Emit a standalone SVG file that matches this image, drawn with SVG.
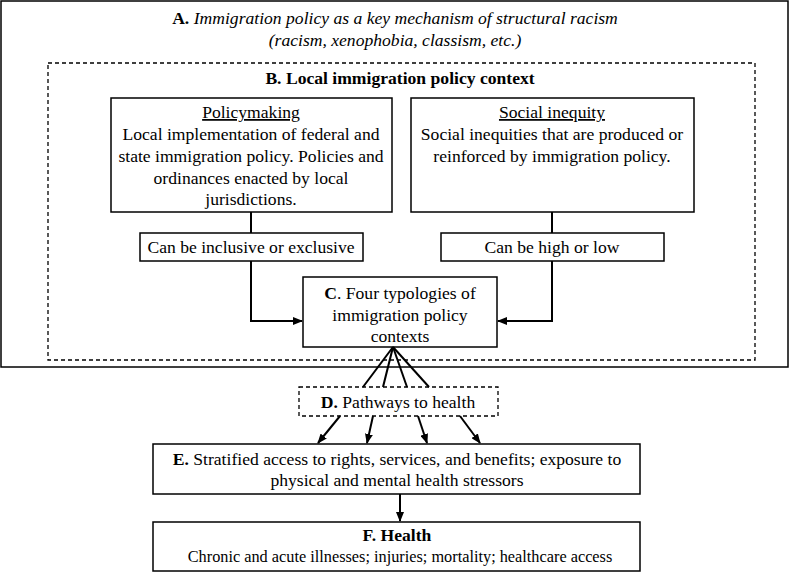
<svg xmlns="http://www.w3.org/2000/svg" width="790" height="573" viewBox="0 0 790 573">
<defs>
<marker id="ah" markerWidth="10" markerHeight="8" refX="9" refY="4" orient="auto" markerUnits="userSpaceOnUse">
<path d="M0,0 L10,4 L0,8 Z" fill="#000"/>
</marker>
<style>
.box{fill:#fff;stroke:#000;stroke-width:1.5}
.dash{fill:none;stroke:#000;stroke-width:1.3;stroke-dasharray:4,3}
.dashw{fill:#fff;stroke:#000;stroke-width:1.3;stroke-dasharray:4,3}
text{font-family:"Liberation Serif","Times New Roman",serif;font-size:17.6px;fill:#000;text-anchor:middle}
.b{font-weight:bold}
.i{font-style:italic}
.u{text-decoration:underline}
.c{stroke:#000;stroke-width:2;fill:none}
</style>
</defs>
<rect width="790" height="573" fill="#fff"/>
<g id="A">
<rect class="box" x="1" y="1" width="787" height="366"/>
<text x="395" y="24"><tspan class="b">A.</tspan> <tspan class="i">Immigration policy as a key mechanism of structural racism</tspan></text>
<text x="395" y="46" class="i">(racism, xenophobia, classism, etc.)</text>
</g>
<g id="B">
<rect class="dash" x="48" y="63" width="707" height="297"/>
<text x="400" y="84" class="b">B. Local immigration policy context</text>
</g>
<g id="policymaking">
<rect class="box" x="111" y="98" width="281" height="114"/>
<text x="251" y="118" class="u">Policymaking</text>
<text x="251" y="140">Local implementation of federal and</text>
<text x="251" y="162">state immigration policy. Policies and</text>
<text x="251" y="184">ordinances enacted by local</text>
<text x="251" y="205">jurisdictions.</text>
</g>
<g id="inequity">
<rect class="box" x="411" y="98" width="283" height="114"/>
<text x="552" y="118" class="u">Social inequity</text>
<text x="552" y="140">Social inequities that are produced or</text>
<text x="552" y="162">reinforced by immigration policy.</text>
</g>
<g id="inclusive">
<rect class="box" x="140" y="233" width="223" height="28"/>
<text x="251" y="253">Can be inclusive or exclusive</text>
</g>
<g id="highlow">
<rect class="box" x="441" y="233" width="223" height="28"/>
<text x="552" y="253">Can be high or low</text>
</g>
<g id="C">
<rect class="box" x="303" y="277" width="194" height="70"/>
<text x="400" y="299"><tspan class="b">C</tspan>. Four typologies of</text>
<text x="400" y="321">immigration policy</text>
<text x="400" y="342">contexts</text>
</g>
<g id="D">
<rect class="dashw" x="299" y="387" width="199" height="29"/>
<text x="398" y="408"><tspan class="b">D.</tspan> Pathways to health</text>
</g>
<g id="E">
<rect class="box" x="153" y="444" width="487" height="50"/>
<text x="397" y="465"><tspan class="b">E.</tspan> Stratified access to rights, services, and benefits; exposure to</text>
<text x="397" y="486">physical and mental health stressors</text>
</g>
<g id="F">
<rect class="box" x="153" y="522" width="487" height="49"/>
<text x="397" y="541" class="b">F. Health</text>
<text x="400" y="562" style="font-size:16.3px">Chronic and acute illnesses; injuries; mortality; healthcare access</text>
</g>
<g id="connectors">
<line class="c" x1="251" y1="212" x2="251" y2="233"/>
<line class="c" x1="552" y1="212" x2="552" y2="233"/>
<polyline class="c" points="251,261 251,321 302,321" marker-end="url(#ah)"/>
<polyline class="c" points="552,261 552,321 498,321" marker-end="url(#ah)"/>
<line class="c" x1="393" y1="347" x2="363" y2="387"/>
<line class="c" x1="393" y1="347" x2="383" y2="387"/>
<line class="c" x1="393" y1="347" x2="407" y2="387"/>
<line class="c" x1="393" y1="347" x2="429" y2="387"/>
<line class="c" x1="340" y1="416" x2="318" y2="443" marker-end="url(#ah)"/>
<line class="c" x1="373" y1="416" x2="367" y2="443" marker-end="url(#ah)"/>
<line class="c" x1="418" y1="416" x2="427" y2="443" marker-end="url(#ah)"/>
<line class="c" x1="460" y1="416" x2="480" y2="443" marker-end="url(#ah)"/>
<line class="c" x1="400" y1="494" x2="400" y2="521" marker-end="url(#ah)"/>
</g>
</svg>
